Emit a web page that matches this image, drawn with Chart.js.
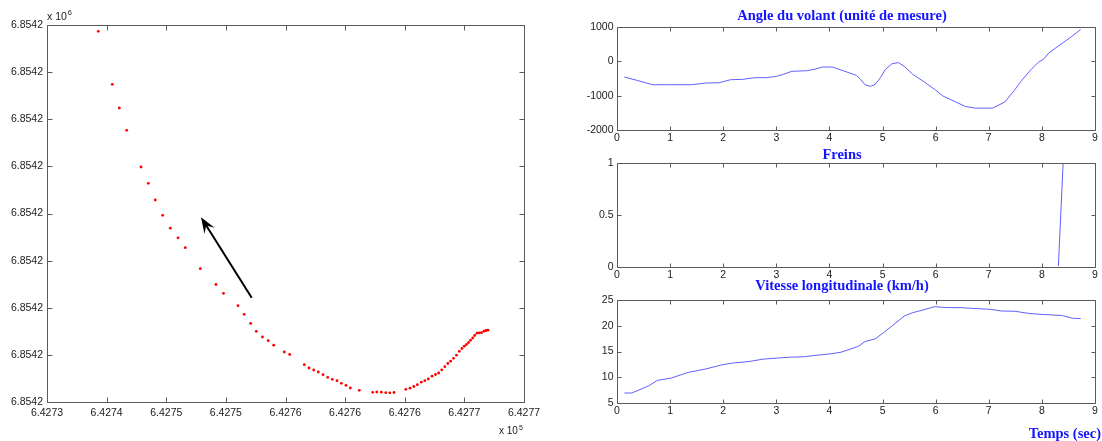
<!DOCTYPE html>
<html>
<head>
<meta charset="utf-8">
<script src="https://cdn.jsdelivr.net/npm/chart.js@4.4.0/dist/chart.umd.min.js"></script>
<style>
  html, body { margin: 0; padding: 0; background: #fff; }
  body { width: 1102px; height: 441px; position: relative; overflow: hidden; }
  canvas { position: absolute; }
</style>
</head>
<body>
<canvas id="traj" width="560" height="441" style="left:0;top:0"></canvas>
<canvas id="angle" width="532" height="150" style="left:570px;top:0"></canvas>
<canvas id="brake" width="532" height="150" style="left:570px;top:140px"></canvas>
<canvas id="speed" width="532" height="169" style="left:570px;top:272px"></canvas>
<script>
// trajectory, positions given in tick steps of the axes
const trajX = [0.86, 1.095, 1.213, 1.337, 1.577, 1.699, 1.816, 1.94, 2.068, 2.197, 2.319, 2.571, 2.834, 2.96, 3.203,
  3.307, 3.416, 3.51, 3.614, 3.71, 3.802, 3.98, 4.07, 4.315, 4.394, 4.473, 4.55, 4.629, 4.708, 4.785, 4.864, 4.936,
  5.015, 5.087, 5.238, 5.463, 5.531, 5.607, 5.681, 5.749, 5.82, 6.018, 6.088, 6.152, 6.211, 6.278, 6.336, 6.395,
  6.457, 6.516, 6.569, 6.62, 6.672, 6.722, 6.769, 6.818, 6.868, 6.915, 6.96, 6.999, 7.036, 7.069, 7.103, 7.14,
  7.173, 7.212, 7.25, 7.287, 7.329, 7.363, 7.396];
const trajY = [7.866, 6.742, 6.239, 5.765, 4.987, 4.641, 4.286, 3.962, 3.688, 3.484, 3.274, 2.829, 2.493, 2.307, 2.044,
  1.861, 1.67, 1.5, 1.379, 1.301, 1.205, 1.061, 1.008, 0.792, 0.721, 0.679, 0.637, 0.579, 0.524, 0.482, 0.452, 0.397,
  0.354, 0.297, 0.248, 0.206, 0.212, 0.208, 0.197, 0.195, 0.202, 0.269, 0.293, 0.329, 0.367, 0.42, 0.452, 0.488,
  0.547, 0.584, 0.615, 0.683, 0.749, 0.817, 0.866, 0.927, 0.993, 1.076, 1.135, 1.184, 1.22, 1.263, 1.311, 1.358,
  1.411, 1.46, 1.468, 1.471, 1.502, 1.517, 1.524];
const trajXTicks = ['6.4273', '6.4274', '6.4275', '6.4275', '6.4276', '6.4276', '6.4276', '6.4277', '6.4277'];
const trajYTicks = ['6.8542', '6.8542', '6.8542', '6.8542', '6.8542', '6.8542', '6.8542', '6.8542', '6.8542'];
const arrowFrom = [3.433, 2.213];
const arrowTo = [2.583, 3.919];

// steering angle
const angleTime = [0.14, 0.38, 0.67, 1.02, 1.4, 1.66, 1.92, 2.14, 2.36, 2.59, 2.81, 3.0, 3.13, 3.29, 3.58, 3.71, 3.87,
  4.06, 4.29, 4.51, 4.59, 4.67, 4.77, 4.86, 4.96, 5.05, 5.18, 5.3, 5.41, 5.57, 5.79, 5.98, 6.14, 6.37, 6.56, 6.75,
  7.07, 7.3, 7.49, 7.62, 7.81, 7.94, 8.03, 8.13, 8.32, 8.55, 8.73];
const angleValues = [-458, -555, -682, -682, -682, -633, -623, -535, -526, -477, -477, -438, -380, -292, -273, -234,
  -166, -166, -292, -409, -535, -682, -730, -672, -477, -243, -68, -39, -146, -380, -604, -818, -1013, -1178, -1315,
  -1363, -1363, -1188, -828, -555, -214, -19, 58, 243, 458, 711, 925];

// brakes
const brakeTime = [0.14, 8.31, 8.4, 8.73];
const brakeValues = [0, 0, 1, 1];

// longitudinal speed
const speedTime = [0.14, 0.28, 0.6, 0.76, 1.02, 1.34, 1.66, 1.98, 2.17, 2.49, 2.75, 3.0, 3.26, 3.52, 3.71, 4.03, 4.22,
  4.54, 4.67, 4.86, 5.02, 5.18, 5.41, 5.57, 5.76, 5.98, 6.21, 6.46, 6.78, 7.04, 7.23, 7.49, 7.74, 7.94, 8.19, 8.39,
  8.58, 8.73];
const speedValues = [6.94, 6.94, 8.35, 9.39, 9.84, 10.94, 11.58, 12.42, 12.74, 13.06, 13.52, 13.71, 13.9, 13.97, 14.23,
  14.55, 14.87, 15.97, 16.94, 17.45, 18.68, 19.97, 21.9, 22.55, 23.06, 23.71, 23.52, 23.52, 23.32, 23.19, 22.87,
  22.81, 22.42, 22.23, 22.1, 21.97, 21.45, 21.39];

const axisColor = '#5a5a5a';
const labelColor = '#1a1a1a';
const titleColor = '#1414ff';
const lineColor = 'rgb(95,95,255)';
const tickFont = { family: "'Liberation Sans', Arial, sans-serif", size: 10.5 };
const titleFontCss = "bold 14.5px 'Liberation Serif', 'Times New Roman', serif";

// matlab style box with inward tick marks, drawn over the data
const boxPlugin = {
  id: 'mbox',
  afterDatasetsDraw(chart, args, opts) {
    const { ctx, chartArea: a, scales: { x, y } } = chart;
    const L = opts.tick || 4;
    const l = Math.round(a.left) + 0.5, r = Math.round(a.right) + 0.5;
    const t = Math.round(a.top) + 0.5, b = Math.round(a.bottom) + 0.5;
    ctx.save();
    ctx.strokeStyle = axisColor;
    ctx.lineWidth = 1;
    ctx.beginPath();
    ctx.rect(l, t, r - l, b - t);
    x.ticks.forEach(tk => {
      const px = Math.round(x.getPixelForValue(tk.value)) + 0.5;
      ctx.moveTo(px, b); ctx.lineTo(px, b - L);
      ctx.moveTo(px, t); ctx.lineTo(px, t + L);
    });
    y.ticks.forEach(tk => {
      const py = Math.round(y.getPixelForValue(tk.value)) + 0.5;
      ctx.moveTo(l, py); ctx.lineTo(l + L, py);
      ctx.moveTo(r, py); ctx.lineTo(r - L, py);
    });
    ctx.stroke();
    ctx.restore();
  }
};

// blue bold titles (and the time axis label)
const titlePlugin = {
  id: 'mtitle',
  afterDraw(chart, args, opts) {
    const { ctx, chartArea: a } = chart;
    ctx.save();
    ctx.fillStyle = titleColor;
    ctx.font = titleFontCss;
    ctx.textBaseline = 'middle';
    ctx.textAlign = 'center';
    ctx.fillText(opts.text, opts.cx, opts.cy);
    if (opts.xLabel) {
      ctx.textAlign = 'right';
      ctx.fillText(opts.xLabel, a.right + 6, a.bottom + 31);
    }
    ctx.restore();
  }
};

function superLabel(ctx, x, y, base, sup, size) {
  ctx.font = size + "px 'Liberation Sans', Arial, sans-serif";
  ctx.textBaseline = 'alphabetic';
  ctx.textAlign = 'left';
  ctx.fillText(base, x, y);
  const w = ctx.measureText(base).width;
  ctx.font = (size * 0.7) + "px 'Liberation Sans', Arial, sans-serif";
  ctx.fillText(sup, x + w + 1, y - size * 0.45);
}

const trajExtras = {
  id: 'trajExtras',
  afterDatasetsDraw(chart) {
    const { ctx, chartArea: a, scales: { x, y } } = chart;
    const x0 = x.getPixelForValue(arrowFrom[0]), y0 = y.getPixelForValue(arrowFrom[1]);
    const x1 = x.getPixelForValue(arrowTo[0]), y1 = y.getPixelForValue(arrowTo[1]);
    const ang = Math.atan2(y1 - y0, x1 - x0);
    const head = 16, half = 6;
    ctx.save();
    ctx.strokeStyle = '#000';
    ctx.fillStyle = '#000';
    ctx.lineWidth = 2;
    ctx.beginPath();
    ctx.moveTo(x0, y0);
    ctx.lineTo(x1 - Math.cos(ang) * 8, y1 - Math.sin(ang) * 8);
    ctx.stroke();
    ctx.translate(x1, y1);
    ctx.rotate(ang);
    ctx.beginPath();
    ctx.moveTo(0, 0);
    ctx.lineTo(-head, -half);
    ctx.lineTo(-head * 0.6, 0);
    ctx.lineTo(-head, half);
    ctx.closePath();
    ctx.fill();
    ctx.restore();

    ctx.save();
    ctx.fillStyle = labelColor;
    superLabel(ctx, a.left, a.top - 5, 'x 10', '6', 10.5);
    superLabel(ctx, a.right - 25, a.bottom + 32, 'x 10', '5', 10);
    ctx.restore();
  }
};

new Chart(document.getElementById('traj'), {
  type: 'scatter',
  data: {
    datasets: [{
      data: trajX.map((v, i) => ({ x: v, y: trajY[i] })),
      backgroundColor: '#ff0000',
      borderWidth: 0,
      pointRadius: 1.4,
      pointHoverRadius: 1.4
    }]
  },
  options: {
    responsive: false,
    animation: false,
    events: [],
    layout: { padding: { left: 0, right: 36, top: 25, bottom: 19 } },
    plugins: { legend: { display: false }, tooltip: { enabled: false }, mbox: { tick: 5 } },
    scales: {
      x: {
        type: 'linear', min: 0, max: 8,
        grid: { display: false, drawTicks: false },
        border: { display: false },
        ticks: { stepSize: 1, padding: 5, color: labelColor, font: tickFont, maxRotation: 0,
          callback: v => trajXTicks[v] },
        afterFit: s => { s.height = 20; }
      },
      y: {
        type: 'linear', min: 0, max: 8,
        grid: { display: false, drawTicks: false },
        border: { display: false },
        ticks: { stepSize: 1, padding: 4, color: labelColor, font: tickFont,
          callback: v => trajYTicks[v] },
        afterFit: s => { s.width = 47; }
      }
    }
  },
  plugins: [boxPlugin, trajExtras]
});

function timePlot(id, title, times, values, yMin, yMax, yStep, padTop, padBottom, titleY, xLabel) {
  return new Chart(document.getElementById(id), {
    type: 'line',
    data: {
      datasets: [{
        data: times.map((t, i) => ({ x: t, y: values[i] })),
        borderColor: lineColor,
        borderWidth: 1,
        pointRadius: 0,
        tension: 0,
        clip: { left: 0, right: 0, top: -1, bottom: -1 }
      }]
    },
    options: {
      responsive: false,
      animation: false,
      events: [],
      layout: { padding: { left: 0, right: 7, top: padTop, bottom: padBottom } },
      plugins: {
        legend: { display: false },
        tooltip: { enabled: false },
        mbox: { tick: 4 },
        mtitle: { text: title, cx: 272, cy: titleY, xLabel: xLabel }
      },
      scales: {
        x: {
          type: 'linear', min: 0, max: 9,
          grid: { display: false, drawTicks: false },
          border: { display: false },
          ticks: { stepSize: 1, padding: 2, color: labelColor, font: tickFont, maxRotation: 0,
            callback: v => String(v) },
          afterFit: s => { s.height = 18; }
        },
        y: {
          type: 'linear', min: yMin, max: yMax,
          grid: { display: false, drawTicks: false },
          border: { display: false },
          ticks: { stepSize: yStep, padding: 3.5, color: labelColor, font: tickFont,
            callback: v => String(v) },
          afterFit: s => { s.width = 47; }
        }
      }
    },
    plugins: [boxPlugin, titlePlugin]
  });
}

timePlot('angle', 'Angle du volant (unité de mesure)', angleTime, angleValues, -2000, 1000, 1000, 27, 2, 16);
timePlot('brake', 'Freins', brakeTime, brakeValues, 0, 1, 0.5, 23, 5, 15);
timePlot('speed', 'Vitesse longitudinale (km/h)', speedTime, speedValues, 5, 25, 5, 28, 20, 14, 'Temps (sec)');
</script>
</body>
</html>
